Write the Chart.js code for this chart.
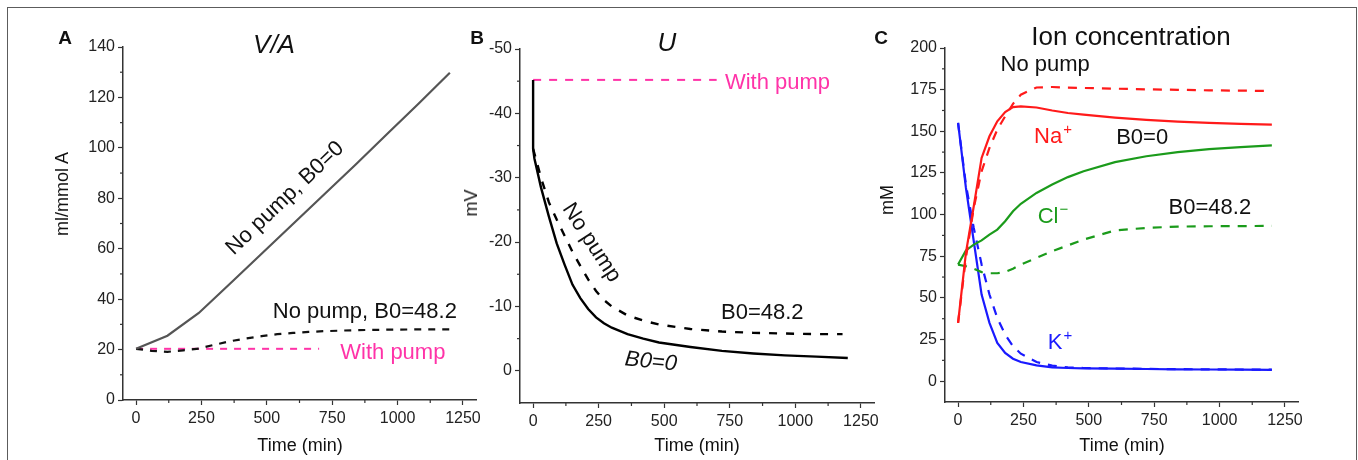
<!DOCTYPE html>
<html><head><meta charset="utf-8">
<script src="https://cdn.jsdelivr.net/npm/chart.js@4.4.1/dist/chart.umd.min.js"></script>
<style>
html,body{margin:0;padding:0;background:#fff;}
#wrap{position:relative;width:1358px;height:460px;overflow:hidden;background:#fff;font-family:'Liberation Sans',Arial,sans-serif;color:#111;}
#frame{position:absolute;left:7px;top:7px;width:1350px;height:480px;border:1.5px solid #5c5c5c;box-sizing:border-box;}
canvas{position:absolute;left:0;top:0;}
.t{position:absolute;white-space:nowrap;transform:translate(-50%,-50%);line-height:1;}
.r{transform:translate(-50%,-50%) rotate(-90deg);}
</style></head>
<body><div id="wrap">
<div id="frame"></div>
<canvas id="cA" width="1358" height="460"></canvas>
<canvas id="cB" width="1358" height="460"></canvas>
<canvas id="cC" width="1358" height="460"></canvas>
<div class="t" style="left:65px;top:37px;font-weight:bold;font-size:19px">A</div>
<div class="t" style="left:477px;top:37px;font-weight:bold;font-size:19px">B</div>
<div class="t" style="left:881px;top:37px;font-weight:bold;font-size:19px">C</div>
<div class="t" style="left:274px;top:44px;font-style:italic;font-size:26px">V/A</div>
<div class="t" style="left:667px;top:42px;font-style:italic;font-size:26px">U</div>
<div class="t" style="left:1131px;top:36px;font-size:26px">Ion concentration</div>
<div class="t r" style="left:62px;top:194px;font-size:18px">ml/mmol A</div>
<div class="t r" style="left:471px;top:203px;font-size:18px">mV</div>
<div class="t r" style="left:887px;top:200px;font-size:18px">mM</div>
<div class="t" style="left:300px;top:445px;font-size:18px">Time (min)</div>
<div class="t" style="left:697px;top:445px;font-size:18px">Time (min)</div>
<div class="t" style="left:1122px;top:445px;font-size:18px">Time (min)</div>
</div>
<script>
// ---------- data ----------
const xTicks = [0, 250, 500, 750, 1000, 1250];
const xMinor = [125, 375, 625, 875, 1125];

// Panel A : V/A (ml/mmol A)
const tA_noPumpB0 = [0, 120, 240, 360, 480, 600, 720, 840, 960, 1080, 1200];
const vA_noPumpB0 = [20.3, 25.5, 34.5, 46.2, 58, 69.8, 81.6, 93.4, 105.5, 117.5, 129.8];
const tA_noPumpB48 = [0, 60, 120, 180, 240, 300, 360, 420, 480, 540, 600, 660, 720, 840, 960, 1080, 1200];
const vA_noPumpB48 = [20.3, 19.5, 19.1, 19.7, 20.4, 21.9, 23.3, 24.4, 25.3, 26.1, 26.6, 27, 27.3, 27.7, 27.9, 28, 28];
const tA_pump = [0, 700];
const vA_pump = [20.3, 20.3];
const yTicksA = [0, 20, 40, 60, 80, 100, 120, 140];
const yMinorA = [10, 30, 50, 70, 90, 110, 130];

// Panel B : U (mV)
const tB_B0 = [0, 0, 5, 30, 60, 90, 120, 150, 180, 210, 240, 270, 300, 360, 420, 480, 600, 720, 840, 960, 1080, 1200];
const uB_B0 = [-45.2, -34.5, -33, -28.5, -24, -19.8, -16.5, -13.4, -11.3, -9.6, -8.3, -7.4, -6.7, -5.7, -5.0, -4.4, -3.7, -3.1, -2.7, -2.4, -2.2, -2.0];
const tB_B48 = [0, 30, 60, 90, 120, 150, 180, 210, 240, 270, 300, 360, 420, 480, 600, 720, 840, 960, 1080, 1180];
const uB_B48 = [-34.5, -30, -26.2, -23.5, -21, -18.5, -16.3, -14.2, -12.4, -11, -10, -8.6, -7.8, -7.2, -6.5, -6.1, -5.9, -5.8, -5.7, -5.7];
const tB_pump = [0, 700];
const uB_pump = [-45.2, -45.2];
const yTicksB = [-50, -40, -30, -20, -10, 0];
const yMinorB = [-45, -35, -25, -15, -5];

// Panel C : ion concentration (mM)
const tC = [0, 30, 60, 90, 120, 150, 180, 210, 240, 300, 360, 420, 480, 600, 720, 840, 960, 1080, 1200];
const na_B0  = [35, 77, 105, 134, 147, 156, 161.5, 164.5, 165, 164.3, 162.5, 161, 160, 158.2, 156.8, 155.8, 155, 154.4, 154];
const na_B48 = [35, 74, 104, 126, 140, 151, 159, 166.5, 172, 176.3, 176.6, 176.2, 176, 175.6, 175.2, 174.9, 174.6, 174.4, 174.2];
const cl_B0  = [70, 78.5, 82, 84.5, 88, 91, 96, 102, 106.5, 113, 118, 122.5, 126, 131.5, 135, 137.5, 139.3, 140.5, 141.5];
const cl_B48 = [70, 69, 67.5, 65.5, 64.8, 64.8, 65.5, 67.5, 70, 74, 78, 81.5, 85, 90.5, 92, 92.8, 93, 93.1, 93.2];
const k_B0   = [155, 116, 84, 52, 35, 23, 17, 13.5, 11.5, 9.5, 8.3, 7.9, 7.7, 7.5, 7.3, 7.1, 7, 6.9, 6.8];
const k_B48  = [155, 118, 92, 70, 52, 38, 28, 21, 16.5, 11.5, 9.3, 8.3, 7.9, 7.6, 7.4, 7.2, 7.1, 7, 6.9];
const yTicksC = [0, 25, 50, 75, 100, 125, 150, 175, 200];
const yMinorC = [12.5, 37.5, 62.5, 87.5, 112.5, 137.5, 162.5, 187.5];

// ---------- rendering ----------
const FONT = "'Liberation Sans', Arial, sans-serif";
Chart.defaults.font.family = FONT;
const AXIS = '#333';
const PINK = '#ff33a8', RED = '#ff1a1a', GREEN = '#1b9b1b', BLUE = '#1a1aff';

function pts(t, v) { return t.map((x, i) => ({x: x, y: v[i]})); }
function ds(t, v, color, dash, width) {
  return {data: pts(t, v), borderColor: color, borderWidth: width || 2, borderDash: dash || [],
          pointRadius: 0, tension: 0, fill: false, borderCapStyle: 'butt'};
}

function drawLabel(ctx, a, xs, ys) {
  const px = xs.getPixelForValue(a.t), py = ys.getPixelForValue(a.v);
  ctx.save();
  ctx.translate(px, py);
  if (a.rot) ctx.rotate(a.rot * Math.PI / 180);
  const size = a.size || 22;
  const font = (a.italic ? 'italic ' : '') + size + 'px ' + FONT;
  const supFont = Math.round(size * 0.66) + 'px ' + FONT;
  ctx.font = font;
  const mainW = ctx.measureText(a.text).width;
  let supW = 0;
  if (a.sup) { ctx.font = supFont; supW = ctx.measureText(a.sup).width + 1; }
  const total = mainW + supW;
  ctx.fillStyle = a.color || '#111';
  ctx.textBaseline = 'middle';
  ctx.textAlign = 'left';
  ctx.font = font;
  ctx.fillText(a.text, -total / 2, 0);
  if (a.sup) { ctx.font = supFont; ctx.fillText(a.sup, -total / 2 + mainW + 1, -size * 0.33); }
  ctx.restore();
}

function decor(minorY, labels) {
  return {
    id: 'decor',
    afterDraw(chart) {
      const ctx = chart.ctx, xs = chart.scales.x, ys = chart.scales.y;
      ctx.save();
      ctx.strokeStyle = AXIS; ctx.lineWidth = 1.2;
      xMinor.forEach(v => {
        const px = xs.getPixelForValue(v);
        ctx.beginPath(); ctx.moveTo(px, xs.top); ctx.lineTo(px, xs.top + 3); ctx.stroke();
      });
      minorY.forEach(v => {
        const py = ys.getPixelForValue(v);
        ctx.beginPath(); ctx.moveTo(ys.right, py); ctx.lineTo(ys.right - 3, py); ctx.stroke();
      });
      ctx.restore();
      labels.forEach(a => drawLabel(ctx, a, xs, ys));
    }
  };
}

function makeChart(id, area, yCfg, datasets, minorY, labels) {
  const WY = 50, HX = 40;
  const tickFont = {size: 16, family: FONT};
  return new Chart(document.getElementById(id), {
    type: 'line',
    data: {datasets: datasets},
    options: {
      responsive: false, animation: false, events: [],
      layout: {padding: {left: area.left - WY, right: 1358 - area.right, top: area.top, bottom: 460 - area.bottom - HX}},
      plugins: {legend: {display: false}, tooltip: {enabled: false}, title: {display: false}},
      scales: {
        x: {
          type: 'linear', min: -50, max: 1300,
          afterFit: s => { s.height = HX; },
          afterBuildTicks: s => { s.ticks = xTicks.map(v => ({value: v})); },
          ticks: {font: tickFont, color: '#222', padding: 4, autoSkip: false, maxRotation: 0, callback: v => String(v)},
          grid: {display: true, drawOnChartArea: false, drawTicks: true, tickLength: 5, color: AXIS, tickWidth: 1.2},
          border: {display: true, color: AXIS, width: 1.5}
        },
        y: {
          type: 'linear', min: yCfg.min, max: yCfg.max, reverse: !!yCfg.reverse,
          afterFit: s => { s.width = WY; },
          afterBuildTicks: s => { s.ticks = yCfg.ticks.map(v => ({value: v})); },
          ticks: {font: tickFont, color: '#222', padding: 3, autoSkip: false, callback: v => String(v)},
          grid: {display: true, drawOnChartArea: false, drawTicks: true, tickLength: 5, color: AXIS, tickWidth: 1.2},
          border: {display: true, color: AXIS, width: 1.5}
        }
      }
    },
    plugins: [decor(minorY, labels)]
  });
}

// Panel A
makeChart('cA', {left: 123, right: 476, top: 47, bottom: 400},
  {min: 0, max: 140, ticks: yTicksA},
  [ds(tA_noPumpB0, vA_noPumpB0, '#555', [], 2.2),
   ds(tA_noPumpB48, vA_noPumpB48, '#111', [7, 7], 2.2),
   ds(tA_pump, vA_pump, PINK, [7, 7], 2)],
  yMinorA,
  [{text: 'No pump, B0=0', t: 570, v: 80, rot: -43.7},
   {text: 'No pump, B0=48.2', t: 875, v: 35},
   {text: 'With pump', t: 982, v: 18.6, color: PINK}]);

// Panel B
makeChart('cB', {left: 520, right: 874, top: 49, bottom: 403},
  {min: -50, max: 5, reverse: true, ticks: yTicksB},
  [ds(tB_B0, uB_B0, '#000', [], 2.4),
   ds(tB_B48, uB_B48, '#000', [8, 9], 2.4),
   ds(tB_pump, uB_pump, PINK, [8, 8], 2)],
  yMinorB,
  [{text: 'With pump', t: 932, v: -44.7, color: PINK},
   {text: 'No pump', t: 222, v: -19.9, rot: 57},
   {text: 'B0=48.2', t: 874, v: -9.0},
   {text: 'B0=0', t: 449, v: -1.4, rot: 6, italic: true}]);

// Panel C
makeChart('cC', {left: 945, right: 1298, top: 48, bottom: 402},
  {min: -12.5, max: 200, ticks: yTicksC},
  [ds(tC, na_B0, RED, [], 2.2),
   ds(tC, na_B48, RED, [9, 8], 2.2),
   ds(tC, cl_B0, GREEN, [], 2.2),
   ds(tC, cl_B48, GREEN, [9, 8], 2.2),
   ds(tC, k_B0, BLUE, [], 2.2),
   ds(tC, k_B48, BLUE, [9, 8], 2.2)],
  yMinorC,
  [{text: 'No pump', t: 333, v: 190},
   {text: 'Na', sup: '+', t: 363, v: 146.5, color: RED},
   {text: 'B0=0', t: 704, v: 146},
   {text: 'Cl', sup: '\u2212', t: 363, v: 98.5, color: GREEN},
   {text: 'B0=48.2', t: 963, v: 104},
   {text: 'K', sup: '+', t: 390, v: 23, color: BLUE}]);
</script>
</body></html>
